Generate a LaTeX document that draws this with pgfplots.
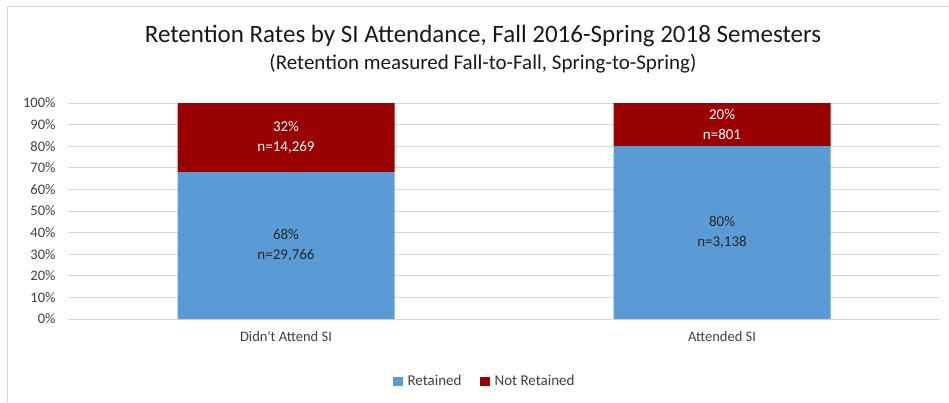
\documentclass[border=0pt]{standalone}
\usepackage{pgfplots}
\pgfplotsset{compat=1.18}
\usepackage{pgfplotstable}
\usepackage{fontspec}
\setmainfont{Carlito}[Ligatures=TeXOff]
\definecolor{retblue}{HTML}{5B9BD5}
\definecolor{notred}{HTML}{990000}
\definecolor{gridgray}{HTML}{D9D9D9}
\definecolor{txt}{HTML}{404040}

\pgfplotstableread{
x y n
0 68 29,766
1 80 3,138
}\retained
\pgfplotstableread{
x y n
0 32 14,269
1 20 801
}\notretained

\begin{document}
\begin{tikzpicture}
\useasboundingbox (0,0) rectangle (949pt,402pt);
\draw[gridgray, line width=1pt] (7pt,0pt) -- (7pt,395pt) -- (949pt,395pt);
\node[font=\fontsize{25}{30}\selectfont, text=black!90] at (483pt,366pt) {Retention Rates by SI Attendance, Fall 2016-Spring 2018 Semesters};
\node[font=\fontsize{21}{25}\selectfont, text=black!90] at (483pt,338pt) {(Retention measured Fall-to-Fall, Spring-to-Spring)};
\begin{axis}[
  at={(68pt,83pt)}, anchor=south west,
  scale only axis, width=872pt, height=216pt,
  ybar stacked, bar width=217pt,
  xmin=-0.5, xmax=1.5, ymin=0, ymax=100,
  xtick=data, xticklabels={Didn't Attend SI, Attended SI},
  ytick={0,10,...,100},
  yticklabel={\pgfmathprintnumber{\tick}\%},
  /pgf/number format/assume math mode=true,
  axis line style={draw=none},
  major tick length=0pt,
  ymajorgrids, grid style={gridgray, line width=1pt},
  tick label style={font=\fontsize{14.5}{17}\selectfont, text=txt},
  yticklabel style={xshift=-9pt},
  xticklabel style={yshift=-9pt},
  legend style={at={(0.4777,-0.288)}, anchor=center, draw=none, fill=none,
    legend columns=2, font=\fontsize{15}{18}\selectfont, text=txt,
    /tikz/every odd column/.append style={column sep=3pt},
    /tikz/every even column/.append style={column sep=16pt}},
  legend image code/.code={\fill[#1] (0pt,-4.5pt) rectangle (10pt,4.5pt);},
  visualization depends on={rawy \as \pct},
  nodes near coords={\pgfmathprintnumber{\pct}\%\\n=\pgfplotspointmeta},
  point meta=explicit symbolic,
  every node near coord/.append style={anchor=center, align=center,
    font=\fontsize{15}{20}\selectfont},
]
\addplot[fill=retblue, draw=none, every node near coord/.append style={text=black!85}] table[x=x, y=y, meta=n] {\retained};
\addlegendentry{Retained}
\addplot[fill=notred, draw=none, every node near coord/.append style={text=white}] table[x=x, y=y, meta=n] {\notretained};
\addlegendentry{Not Retained}
\end{axis}
\end{tikzpicture}
\end{document}
